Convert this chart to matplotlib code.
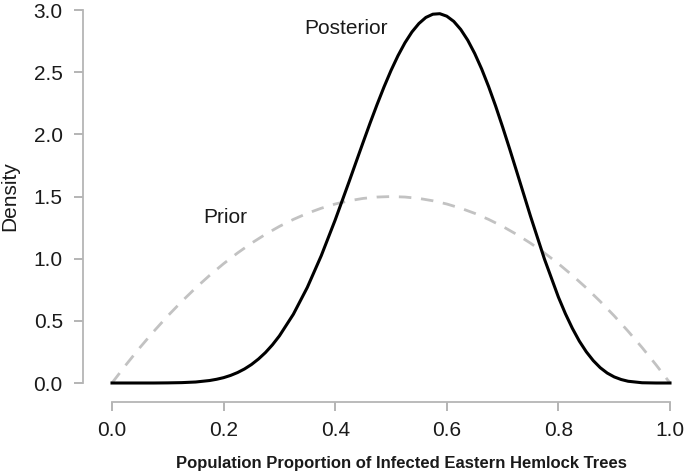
import matplotlib
matplotlib.use('Agg')
import matplotlib.pyplot as plt

plt.rcParams['font.family'] = ['Liberation Sans', 'DejaVu Sans']

# prior density
x_prior = [0.0, 0.025, 0.05, 0.075, 0.1, 0.125, 0.15, 0.175, 0.2, 0.225,
           0.25, 0.275, 0.3, 0.325, 0.35, 0.375, 0.4, 0.425, 0.45, 0.475,
           0.5, 0.525, 0.55, 0.575, 0.6, 0.625, 0.65, 0.675, 0.7, 0.725,
           0.75, 0.775, 0.8, 0.825, 0.85, 0.875, 0.9, 0.925, 0.95, 0.975, 1.0]
prior = [0.0, 0.146, 0.285, 0.416, 0.54, 0.656, 0.765, 0.866, 0.96, 1.046,
         1.125, 1.196, 1.26, 1.316, 1.365, 1.406, 1.44, 1.466, 1.485, 1.496,
         1.5, 1.496, 1.485, 1.466, 1.44, 1.406, 1.365, 1.316, 1.26, 1.196,
         1.125, 1.046, 0.96, 0.866, 0.765, 0.656, 0.54, 0.416, 0.285, 0.146, 0.0]

# posterior density, sampled more densely where it bends
x_post = [0.0, 0.025, 0.05, 0.075, 0.1, 0.125, 0.15, 0.175, 0.1875, 0.2,
          0.2125, 0.225, 0.2375, 0.25, 0.2625, 0.275, 0.2875, 0.3, 0.325, 0.35,
          0.375, 0.4, 0.425, 0.4375, 0.45, 0.4625, 0.475, 0.4875, 0.5, 0.5125,
          0.525, 0.5375, 0.55, 0.5625, 0.575, 0.5875, 0.6, 0.6125, 0.625, 0.6375,
          0.65, 0.6625, 0.675, 0.6875, 0.7, 0.7125, 0.725, 0.75, 0.775, 0.8,
          0.8125, 0.825, 0.8375, 0.85, 0.8625, 0.875, 0.8875, 0.9, 0.9125, 0.925,
          0.95, 0.975, 1.0]
posterior = [0.0, 0.0, 0.0, 0.0, 0.001, 0.003, 0.008, 0.02, 0.03, 0.043,
             0.061, 0.084, 0.113, 0.149, 0.193, 0.245, 0.307, 0.379, 0.553, 0.769,
             1.024, 1.312, 1.621, 1.779, 1.936, 2.091, 2.24, 2.382, 2.514, 2.633,
             2.737, 2.824, 2.892, 2.941, 2.967, 2.971, 2.951, 2.909, 2.844, 2.758,
             2.651, 2.526, 2.384, 2.228, 2.06, 1.885, 1.705, 1.342, 0.997, 0.691,
             0.558, 0.44, 0.337, 0.251, 0.18, 0.123, 0.08, 0.049, 0.028, 0.014,
             0.002, 0.0, 0.0]

xticks = [0.0, 0.2, 0.4, 0.6, 0.8, 1.0]
yticks = [0.0, 0.5, 1.0, 1.5, 2.0, 2.5, 3.0]

W, H = 685, 473
fig = plt.figure(figsize=(W / 100, H / 100), dpi=100)
ax = fig.add_axes([83 / W, (H - 402) / H, (680 - 83) / W, (402 - 5) / H])

ax.plot(x_prior, prior, color='#c2c2c2', lw=2, linestyle=(0, (4.5, 3.5)))
ax.plot(x_post, posterior, color='black', lw=2.2, solid_joinstyle='round')

ax.set_xlim((83 - 112) / 558, (680 - 112) / 558)
ax.set_ylim(-(402 - 383) / 124.3, (383 - 5) / 124.3)

for s in ['top', 'right']:
    ax.spines[s].set_visible(False)
ax.spines['bottom'].set_bounds(0, 1)
ax.spines['left'].set_bounds(0, 3)
for s in ['bottom', 'left']:
    ax.spines[s].set_color('#b5b5b5')
    ax.spines[s].set_linewidth(1.3)

ax.set_xticks(xticks)
ax.set_xticklabels(['%.1f' % v for v in xticks])
ax.set_yticks(yticks)
ax.set_yticklabels(['%.1f' % v for v in yticks])
ax.tick_params(axis='both', direction='out', length=6.5, width=1.1,
               color='#a0a0a0', labelsize=15, labelcolor='#1a1a1a')
ax.tick_params(axis='x', pad=7)
ax.tick_params(axis='y', pad=8)

ax.text(0.419, 2.85, 'Posterior', fontsize=15, ha='center', va='center', color='#1a1a1a')
ax.text(0.2025, 1.33, 'Prior', fontsize=15, ha='center', va='center', color='#1a1a1a')

fig.text(401 / W, 1 - 463 / H, 'Population Proportion of Infected Eastern Hemlock Trees',
         fontsize=12, fontweight='bold', ha='center', va='center', color='#1a1a1a')
fig.text(10 / W, 1 - 196 / H, 'Density', fontsize=15, rotation=90,
         ha='center', va='center', color='#1a1a1a')

fig.savefig('out.png', dpi=100)
